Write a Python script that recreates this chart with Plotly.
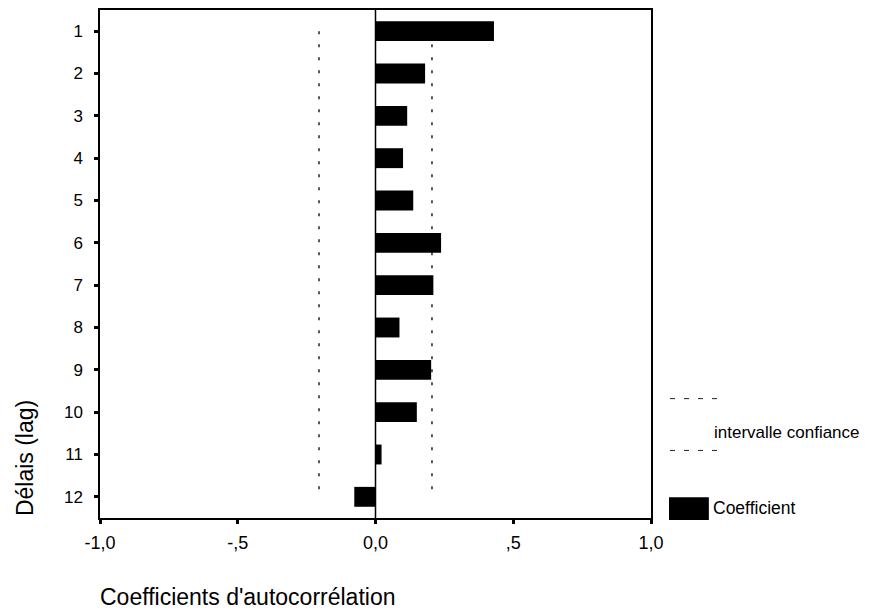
import plotly.graph_objects as go

lags = [1, 2, 3, 4, 5, 6, 7, 8, 9, 10, 11, 12]
coefficients = [0.43, 0.18, 0.115, 0.10, 0.137, 0.238, 0.21, 0.087, 0.202, 0.15, 0.022, -0.077]
ci_upper = [0.205, 0.205, 0.205, 0.205, 0.205, 0.205, 0.205, 0.205, 0.205, 0.205, 0.205, 0.205]
ci_lower = [-0.205, -0.205, -0.205, -0.205, -0.205, -0.205, -0.205, -0.205, -0.205, -0.205, -0.205, -0.205]
x_tick_vals = [-1.0, -0.5, 0.0, 0.5, 1.0]
x_tick_text = ["-1,0", "-,5", "0,0", ",5", "1,0"]

FONT = "Liberation Sans, Arial, sans-serif"

fig = go.Figure()
fig.add_trace(go.Bar(
    x=coefficients, y=lags, orientation="h",
    marker=dict(color="black", line=dict(width=0)),
    width=0.47, showlegend=False,
))
for ci in (ci_upper, ci_lower):
    fig.add_trace(go.Scatter(
        x=ci, y=lags, mode="lines",
        line=dict(color="black", width=1.3, dash="3px,10px"),
        showlegend=False, hoverinfo="skip",
    ))

# zero line
fig.add_shape(type="line", xref="x", yref="paper", x0=0, x1=0, y0=0, y1=1,
              line=dict(color="black", width=1.5))

# manual legend
for yp in (0.235, 0.133):
    fig.add_shape(type="line", xref="paper", yref="paper", x0=1.0345, x1=1.125, y0=yp, y1=yp,
                  line=dict(color="#222222", width=1, dash="5px,9px"))
fig.add_annotation(xref="paper", yref="paper", x=1.111, y=0.169, text="intervalle confiance",
                   showarrow=False, xanchor="left", yanchor="middle",
                   font=dict(family=FONT, size=17, color="black"))
fig.add_shape(type="rect", xref="paper", yref="paper", x0=1.0327, x1=1.105, y0=-0.004, y1=0.041,
              fillcolor="black", line=dict(width=0))
fig.add_annotation(xref="paper", yref="paper", x=1.108, y=0.0196, text="Coefficient",
                   showarrow=False, xanchor="left", yanchor="middle",
                   font=dict(family=FONT, size=17.5, color="black"))

# axis titles
fig.add_annotation(xref="paper", yref="paper", x=-0.136, y=0.118, text="Délais (lag)",
                   textangle=-90, showarrow=False, xanchor="center", yanchor="middle",
                   font=dict(family=FONT, size=23, color="black"))
fig.add_annotation(xref="paper", yref="paper", x=-0.004, y=-0.155, text="Coefficients d'autocorrélation",
                   showarrow=False, xanchor="left", yanchor="middle",
                   font=dict(family=FONT, size=23, color="black"))

fig.update_layout(
    width=872, height=611,
    margin=dict(l=100, r=221, t=8, b=93),
    paper_bgcolor="white", plot_bgcolor="white",
    font=dict(family=FONT, size=17, color="black"),
)
fig.update_xaxes(
    range=[-1.0, 1.0], tickvals=x_tick_vals, ticktext=x_tick_text,
    showgrid=False, zeroline=False, showline=True, linecolor="black", linewidth=1.5,
    mirror=True, ticks="outside", ticklen=4, tickwidth=3, tickcolor="black",
    ticklabelstandoff=4,
    tickfont=dict(family=FONT, size=18),
)
fig.update_yaxes(
    range=[12.5, 0.5], tickvals=lags, ticktext=[str(v) for v in lags],
    showgrid=False, zeroline=False, showline=True, linecolor="black", linewidth=1.5,
    mirror=True, ticks="outside", ticklen=4, tickwidth=3, tickcolor="black",
    ticklabelstandoff=8,
    tickfont=dict(family=FONT, size=17),
)

fig.write_html("out.html")
